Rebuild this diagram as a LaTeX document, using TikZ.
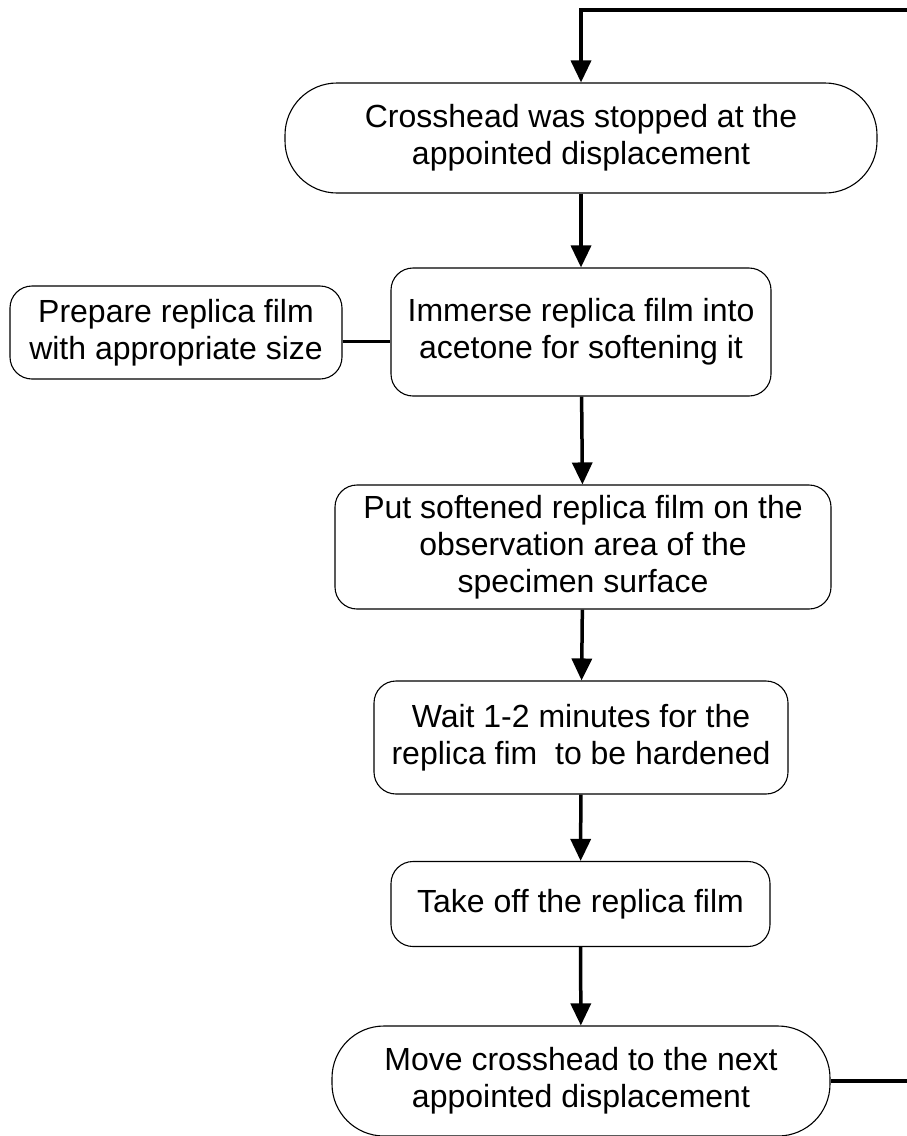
\documentclass[tikz,border=0pt]{standalone}
\usepackage{fontspec}
\setmainfont{Liberation Sans}
\usetikzlibrary{arrows.meta}
\begin{document}
\begin{tikzpicture}[x=1pt,y=-1pt,
  every node/.style={font=\fontsize{32}{37}\selectfont, align=center, inner sep=0pt},
  stepbox/.style={draw, line width=1.1pt, rounded corners=22pt},
  termbox/.style={draw, line width=1.1pt, rounded corners=52pt},
  flow/.style={line width=3.5pt, -{Triangle[length=22pt,width=20pt]}},
  link/.style={line width=3.5pt}]
\useasboundingbox (0,0) rectangle (906,1136);

% process steps
\node[termbox, minimum width=592pt, minimum height=110pt] (stop) at (581,138)
  {Crosshead was stopped at the\\appointed displacement};
\node[stepbox, minimum width=380pt, minimum height=128pt] (imm) at (581,332)
  {Immerse replica film into\\acetone for softening it};
\node[stepbox, minimum width=332pt, minimum height=93pt] (prep) at (176,332.5)
  {Prepare replica film\\with appropriate size};
\node[stepbox, minimum width=496pt, minimum height=124pt] (put) at (583,547)
  {Put softened replica film on the\\observation area of the\\specimen surface};
\node[stepbox, minimum width=414pt, minimum height=113pt] (wait) at (581,737.5)
  {Wait 1-2 minutes for the\\replica fim\ \ to be hardened};
\node[stepbox, minimum width=379pt, minimum height=85pt] (take) at (580.5,904)
  {Take off the replica film};
\node[termbox, minimum width=498pt, minimum height=110pt] (move) at (581,1081)
  {Move crosshead to the next\\appointed displacement};

% connectors
\draw[link] ([yshift=-9pt]prep.east) -- ([yshift=-9pt]prep.east -| imm.west);
\draw[flow] (stop) -- (imm);
\draw[flow] (imm) -- (put);
\draw[flow] (put) -- (wait);
\draw[flow] (wait) -- (take);
\draw[flow] (take) -- (move);

% return loop to the next displacement
\coordinate (loopT) at (930,10);
\draw[flow] (move.east) -- (move.east -| loopT) -- (loopT) -- (loopT -| stop.north) -- (stop.north);
\end{tikzpicture}
\end{document}
